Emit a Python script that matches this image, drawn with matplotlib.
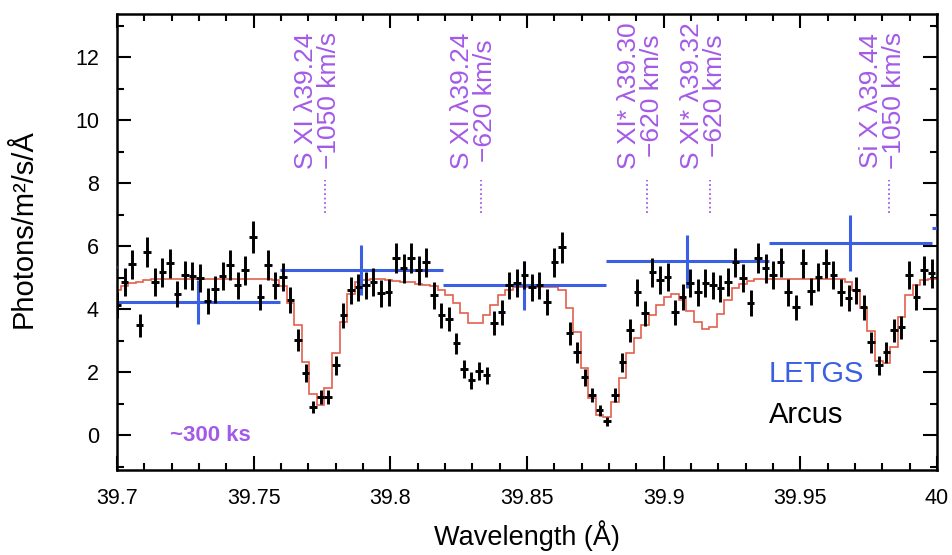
import numpy as np
import matplotlib
matplotlib.use("Agg")
from matplotlib import pyplot as plt
from matplotlib.ticker import MultipleLocator

# Arcus simulated spectrum (photons/m2/s/A), one value per bin
flux = [4.13, 4.86, 5.43, 3.49, 5.81, 4.86, 5.17, 5.46, 4.48, 5.08, 5.05, 4.98, 4.25, 4.63, 5.05, 5.40,
        4.76, 5.24, 6.29, 4.38, 5.40, 4.76, 5.02, 4.29, 3.02, 1.97, 0.89, 1.21, 1.21, 2.22, 3.81, 4.60,
        4.70, 4.76, 4.86, 4.51, 4.54, 5.62, 5.30, 5.62, 5.24, 5.49, 4.44, 3.81, 3.68, 2.92, 2.10, 1.75,
        2.03, 1.90, 3.56, 3.90, 4.76, 4.83, 5.08, 4.70, 4.76, 4.22, 5.49, 5.97, 3.24, 2.63, 1.84, 1.27,
        0.79, 0.44, 1.27, 2.32, 3.33, 4.54, 3.87, 5.17, 4.92, 5.02, 3.90, 4.38, 4.83, 4.54, 4.83, 4.76,
        4.67, 4.86, 5.49, 4.98, 4.19, 5.62, 5.30, 5.08, 5.49, 4.54, 4.06, 5.46, 4.57, 5.02,
        5.46, 5.08, 4.54, 4.35, 4.60, 4.06, 2.95, 2.22, 2.63, 3.33, 3.43, 5.08, 4.38, 5.24, 5.14]

# model (red histogram), same bins
model = [4.60, 4.75, 4.82, 4.87, 4.92, 4.95, 4.97, 4.97, 4.97, 4.97, 4.97, 4.97, 4.97, 4.97, 4.97, 4.97,
         4.97, 4.97, 4.97, 4.97, 4.95, 4.92, 4.75, 4.20, 3.50, 2.32, 1.30, 0.95, 1.49, 2.60, 3.60, 4.50,
         4.85, 4.92, 4.95, 4.95, 4.93, 4.90, 4.87, 4.85, 4.80, 4.76, 4.74, 4.60, 4.44, 4.19, 3.87, 3.56,
         3.56, 3.81, 4.13, 4.44, 4.60, 4.70, 4.72, 4.72, 4.72, 4.72, 4.72, 4.60, 4.03, 3.27, 2.13, 1.17,
         0.63, 0.57, 1.05, 1.81, 2.60, 3.08, 3.49, 3.81, 4.13, 4.38, 4.50, 4.30, 3.95, 3.58, 3.37, 3.45,
         3.85, 4.30, 4.67, 4.80, 4.90, 4.95, 4.97, 4.97, 4.97, 4.97, 4.97, 4.97, 4.97, 4.97, 4.97, 4.97,
         4.97, 4.85, 4.60, 4.03, 3.30, 2.35, 2.29, 2.80, 3.75, 4.44, 4.76, 4.92, 4.97]

wave = np.linspace(39.7, 39.998, len(flux))
dw = wave[1] - wave[0]

# LETGS coarse bins
letgs_wave = [39.6702, 39.7298, 39.7894, 39.8490, 39.9086, 39.9682, 40.0278]
letgs_flux = [5.33, 4.22, 5.24, 4.76, 5.52, 6.10, 6.57]
letgs_err = [0.75, 0.70, 0.80, 0.78, 0.83, 0.89, 0.90]
letgs_hw = 0.0298

# line ids
line_pos = [39.776, 39.833, 39.894, 39.917, 39.9825]
line_lab = ["S XI \u03bb39.24\n\u22121050 km/s",
            "S XI \u03bb39.24\n\u2212620 km/s",
            "S XI* \u03bb39.30\n\u2212620 km/s",
            "S XI* \u03bb39.32\n\u2212620 km/s",
            "Si X \u03bb39.44\n\u22121050 km/s"]

purple = '#a35ae8'
blue = '#3b5fe3'
red = '#e4604e'

plt.rcParams['font.family'] = ['Liberation Sans', 'DejaVu Sans']

fig = plt.figure(figsize=(9.53, 5.55), dpi=100)
ax = fig.add_axes([0.1228, 0.1532, 0.8604, 0.8216])

edges = np.append(wave - dw / 2, 40.0)
ax.stairs(model, edges, baseline=None, color=red, lw=1.2, zorder=2)

ax.errorbar(letgs_wave, letgs_flux, xerr=letgs_hw, yerr=letgs_err, fmt='none',
            ecolor=blue, elinewidth=2.2, capsize=0, zorder=3)

ferr = 0.2 * np.sqrt(np.array(flux))
ax.errorbar(wave, flux, xerr=dw / 2, yerr=ferr, fmt='none', ecolor='black',
            elinewidth=2.1, capsize=0, zorder=4)

for xp, lab in zip(line_pos, line_lab):
    ax.plot([xp, xp], [7.05, 8.1], ls=(0, (1, 1.5)), color=purple, lw=1.3)
    ax.annotate(lab, xy=(xp, 8.45), xytext=(-5, 0), textcoords='offset points',
                rotation=90, ha='center', va='bottom', color=purple,
                fontsize=19, linespacing=0.95)

ax.text(39.7195, 0.0, "~300 ks", color=purple, fontsize=16, fontweight='bold',
        ha='left', va='center')
ax.text(39.9385, 1.95, "LETGS", color=blue, fontsize=21, ha='left', va='center')
ax.text(39.9385, 0.65, "Arcus", color='black', fontsize=21, ha='left', va='center')

ax.set_xlim(39.7, 40.0)
ax.set_ylim(-1.1, 13.37)
ax.xaxis.set_major_locator(MultipleLocator(0.05))
ax.xaxis.set_minor_locator(MultipleLocator(0.01))
ax.yaxis.set_major_locator(MultipleLocator(2))
ax.yaxis.set_minor_locator(MultipleLocator(1))
ax.set_xticks([39.7, 39.75, 39.8, 39.85, 39.9, 39.95, 40.0])
ax.set_xticklabels(['39.7', '39.75', '39.8', '39.85', '39.9', '39.95', '40'])
ax.tick_params(which='both', direction='in', top=True, right=True, width=1.5, labelsize=15.5)
ax.tick_params(which='major', length=10)
ax.tick_params(which='minor', length=5)
ax.tick_params(axis='y', pad=13)
ax.tick_params(axis='x', pad=13)
for s in ax.spines.values():
    s.set_linewidth(1.8)

ax.set_xlabel("Wavelength (\u00c5)", fontsize=19.5, labelpad=8)
ax.set_ylabel("Photons/m\u00b2/s/\u00c5", fontsize=21)
ax.yaxis.set_label_coords(-0.097, 0.53)

fig.savefig("out.png", dpi=100)
